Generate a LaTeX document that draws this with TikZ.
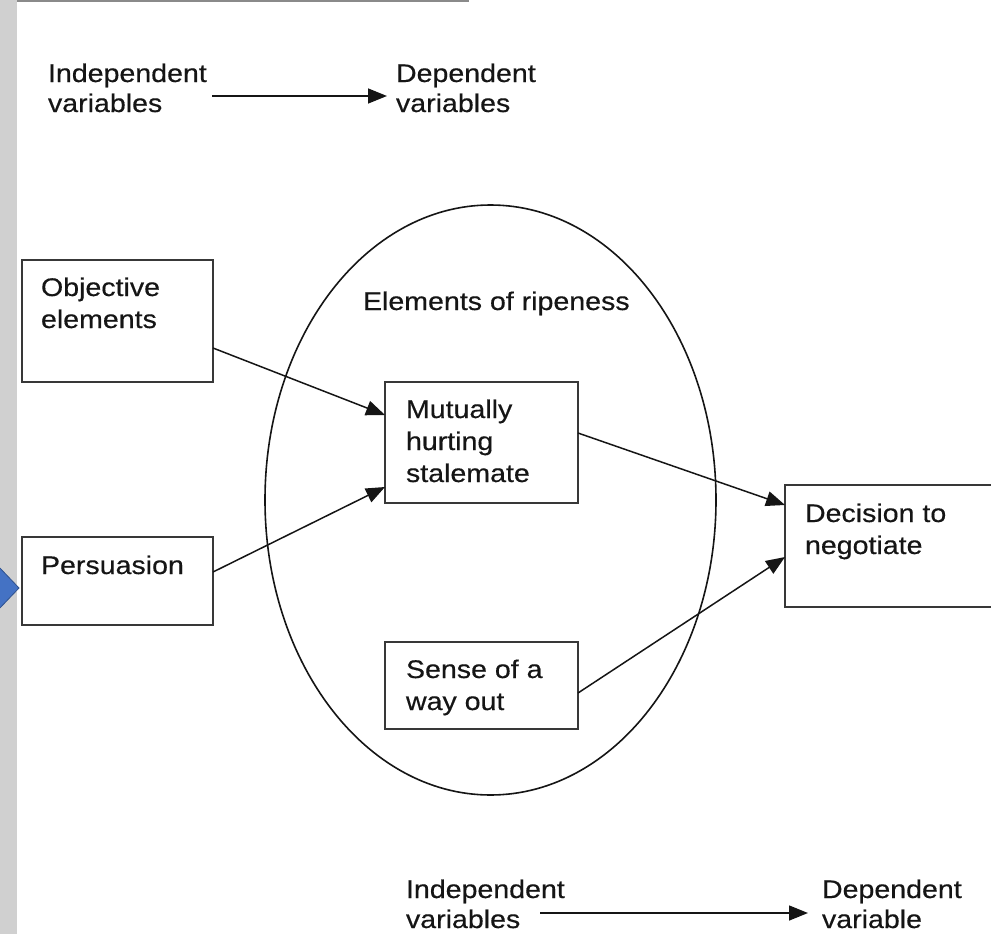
\documentclass[tikz,border=0pt]{standalone}
\usepackage{fontspec}
\setmainfont{Liberation Sans}[FakeStretch=1.12,FakeBold=0.4]
\usetikzlibrary{arrows.meta,calc,shapes.geometric}
\definecolor{stripgray}{HTML}{D0D0D0}
\definecolor{linegray}{HTML}{8A8A8A}
\definecolor{blueptr}{HTML}{4472C4}
\definecolor{blueedge}{HTML}{2F528F}
\definecolor{ink}{HTML}{151515}
\begin{document}
\begin{tikzpicture}[x=1pt,y=-1pt,
  box/.style={draw=ink!85, line width=2pt, rectangle, inner sep=0pt, outer sep=0pt, anchor=north west},
  lbl/.style={anchor=base west, inner sep=0pt, outer sep=0pt, align=left, text=ink, font=\fontsize{25.5}{32}\selectfont},
  toplbl/.style={lbl, font=\fontsize{25.5}{30}\selectfont},
  conn/.style={draw=ink, line width=1.5pt, -{Triangle[length=19pt,width=15pt]}},
  ripestyle/.style={draw=ink, line width=1.6pt, ellipse, inner sep=0pt, outer sep=0pt}
]
\useasboundingbox (0,0) rectangle (991,934);
% left strip, top rule, blue pointer
\fill[stripgray] (0,0) rectangle (16.5,934);
\draw[linegray, line width=2pt] (17,1) -- (469,1);
\fill[blueptr, draw=blueedge, line width=0.8pt] (-2,566) -- (19,588) -- (-2,610) -- cycle;

% legend top (anchor is the baseline of the last line)
\node[toplbl] (ivtop) at (48,112) {Independent\\variables};
\node[toplbl] (dvtop) at (396,112) {Dependent\\variables};
\coordinate (ta1) at (212,96);
\coordinate (ta2) at (387,96);
\draw[conn] (ta1) -- (ta2);

% ellipse
\node[ripestyle, minimum width=451pt, minimum height=590pt] (ripe) at (490.5,500) {};
\node[lbl] (ripet) at (363,310) {Elements of ripeness};

% boxes
\node[box, minimum width=191pt, minimum height=122pt] (obj) at (22,260) {};
\node[lbl] (objt) at (41,328) {Objective\\elements};
\node[box, minimum width=191pt, minimum height=88pt] (per) at (22,537) {};
\node[lbl] (pert) at (41,574) {Persuasion};
\node[box, minimum width=193pt, minimum height=121pt] (mhs) at (385,382) {};
\node[lbl] (mhst) at (406,482) {Mutually\\hurting\\stalemate};
\node[box, minimum width=193pt, minimum height=87pt] (way) at (385,642) {};
\node[lbl] (wayt) at (406,710) {Sense of a\\way out};
\node[box, minimum width=215pt, minimum height=122pt] (dec) at (785,485) {};
\node[lbl] (dect) at (805,554) {Decision to\\negotiate};

% connectors
\draw[conn] ($(obj.north east)+(0,88)$) -- ($(mhs.north west)+(0,33)$);
\draw[conn] ($(per.north east)+(0,35)$) -- ($(mhs.north west)+(0,105)$);
\draw[conn] ($(mhs.north east)+(0,51)$) -- ($(dec.north west)+(0,20)$);
\draw[conn] ($(way.north east)+(0,51)$) -- ($(dec.north west)+(0,72)$);

% legend bottom
\node[toplbl] (ivbot) at (406,928) {Independent\\variables};
\node[toplbl] (dvbot) at (822,928) {Dependent\\variable};
\coordinate (ba1) at (540,913);
\coordinate (ba2) at (808,913);
\draw[conn] (ba1) -- (ba2);
\end{tikzpicture}
\end{document}
